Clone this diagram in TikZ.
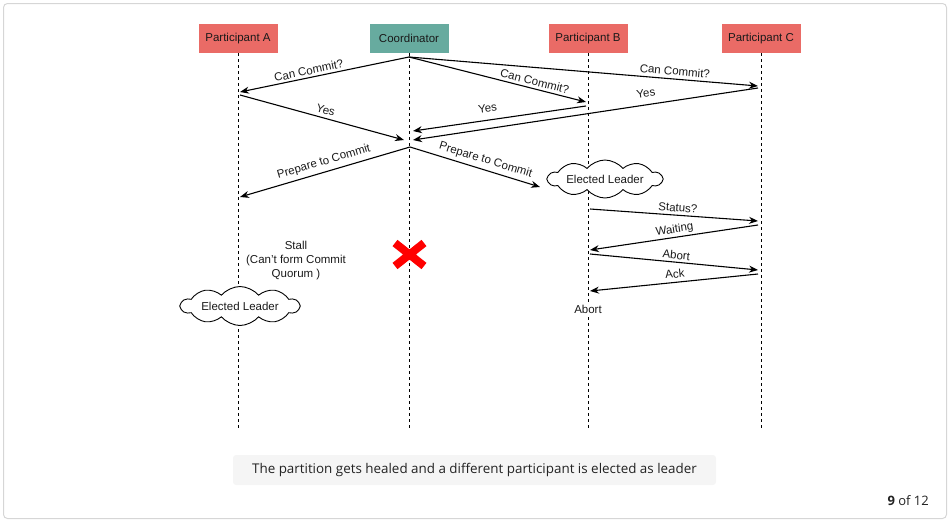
\documentclass[tikz,border=0pt]{standalone}
\usepackage{fontspec}
\setmainfont{Liberation Sans}
\newfontfamily\capfont{Open Sans}
\usetikzlibrary{arrows.meta,shapes.symbols}
\definecolor{partred}{HTML}{EA6B66}
\definecolor{coordgreen}{HTML}{67AB9F}
\definecolor{txt}{HTML}{1A1A1A}
\definecolor{framegray}{HTML}{D6D6D6}
\definecolor{capgray}{HTML}{F5F5F5}
\definecolor{captxt}{HTML}{222222}
\begin{document}
\begin{tikzpicture}[x=1pt,y=-1pt,
  part/.style={minimum width=79pt,minimum height=29pt,inner sep=0pt,font=\fontsize{11.5}{13}\selectfont,text=txt},
  life/.style={dash pattern=on 3pt off 3pt,line width=0.9pt},
  msg/.style={-{Stealth[length=9pt,width=7pt]},line width=1.1pt},
  lbl/.style={font=\fontsize{11.5}{13}\selectfont,text=txt,sloped,inner sep=0pt,anchor=center},
  plain/.style={font=\fontsize{11.5}{14}\selectfont,text=txt,inner sep=1pt},
  cloudbox/.style={cloud,cloud puffs=10,cloud puff arc=100,cloud ignores aspect,draw,line width=0.9pt,fill=white,
    minimum width=114pt,minimum height=38pt,inner sep=0pt,font=\fontsize{11.5}{13}\selectfont,text=txt}]
\useasboundingbox (0,0) rectangle (951,522);
\draw[framegray,rounded corners=4pt,line width=1pt] (3.5,3.5) rectangle (946.5,518.5);

% participants
\node[part,fill=partred] (pA) at (238,38.5) {Participant A};
\node[part,fill=coordgreen] (co) at (409,38.5) {Coordinator};
\node[part,fill=partred] (pB) at (588,38.5) {Participant B};
\node[part,fill=partred] (pC) at (761,38.5) {Participant C};

% lifeline ends
\coordinate (eA) at (238,428);
\coordinate (eCo) at (409,428);
\coordinate (eB) at (588,428);
\coordinate (eC) at (761,428);
\draw[life] (pA.south) -- (eA);
\draw[life] (co.south) -- (eCo);
\draw[life] (pB.south) -- (eB);
\draw[life] (pC.south) -- (eC);

% message end points
\coordinate (co1) at (409,57);
\coordinate (a1) at (240,92);
\coordinate (b1) at (586,102);
\coordinate (c1) at (758,86);
\coordinate (a2) at (240,95);
\coordinate (co2) at (404,140);
\coordinate (b2) at (586,106);
\coordinate (co3) at (413,131);
\coordinate (c2) at (758,88);
\coordinate (co4) at (413,140);
\coordinate (co5) at (410,147);
\coordinate (a3) at (240,197);
\coordinate (bl) at (540,187);
\coordinate (b3) at (590,209);
\coordinate (c3) at (758,221);
\coordinate (c4) at (758,225);
\coordinate (b4) at (590,250);
\coordinate (b5) at (590,254);
\coordinate (c5) at (758,270);
\coordinate (c6) at (758,274);
\coordinate (b6) at (590,291);

\draw[msg] (co1) -- node[lbl,pos=.585,yshift=7pt] {Can Commit?} (a1);
\draw[msg] (co1) -- node[lbl,pos=.70,yshift=7.5pt] {Can Commit?} (b1);
\draw[msg] (co1) -- node[lbl,pos=.76,yshift=8pt] {Can Commit?} (c1);
\draw[msg] (a2) -- node[lbl,pos=.51,yshift=8pt] {Yes} (co2);
\draw[msg] (b2) -- node[lbl,pos=.56,yshift=11.5pt] {Yes} (co3);
\draw[msg] (c2) -- node[lbl,pos=.32,yshift=11.5pt] {Yes} (co4);
\draw[msg] (co5) -- node[lbl,pos=.49,yshift=10pt] {Prepare to Commit} (a3);
\draw[msg] (co5) -- node[lbl,pos=.56,yshift=9.5pt] {Prepare to Commit} (bl);
\draw[msg] (b3) -- node[lbl,pos=.52,yshift=7.5pt] {Status?} (c3);
\draw[msg] (c4) -- node[lbl,pos=.49,yshift=7.5pt] {Waiting} (b4);
\draw[msg] (b5) -- node[lbl,pos=.51,yshift=7pt] {Abort} (c5);
\draw[msg] (c6) -- node[lbl,pos=.49,yshift=8.5pt] {Ack} (b6);

% clouds and notes
\node[cloudbox] (leaderB) at (605,179) {Elected Leader};
\node[cloudbox,minimum width=118pt,minimum height=39pt] (leaderA) at (240,306) {Elected Leader};
\node[plain,align=center] (stall) at (296,261) {Stall\\(Can't form Commit\\Quorum )};
\node[plain,fill=white] (abortB) at (588,309) {Abort};

% failed coordinator
\draw[red,line width=8pt] (395,243) -- (424,266) (424,243) -- (395,266);

% caption
\node[fill=capgray,rounded corners=3pt,minimum width=483pt,minimum height=30pt,inner sep=0pt,
  font=\capfont\fontsize{13.4}{15}\selectfont,text=captxt] (cap) at (474.5,470)
  {The partition gets healed and a different participant is elected as leader};
\node[anchor=east,inner sep=0pt,font=\capfont\fontsize{13}{15}\selectfont,text=captxt] (page) at (929,501)
  {\textbf{9} of 12};
\end{tikzpicture}
\end{document}
